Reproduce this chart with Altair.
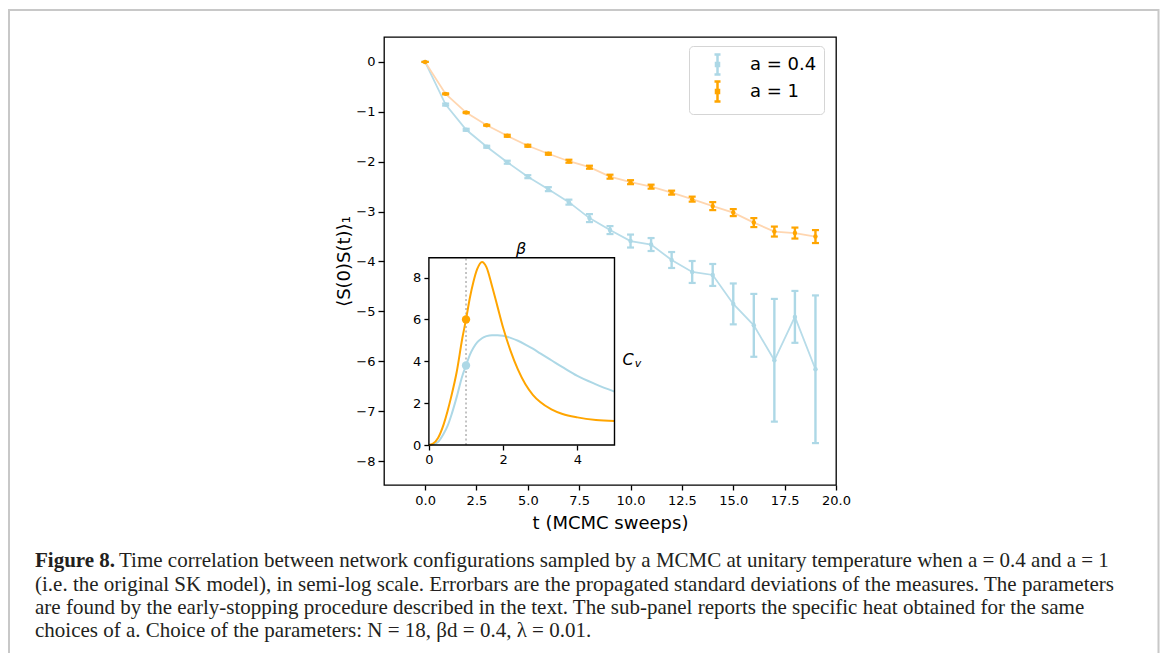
import altair as alt
import pandas as pd

# ---------------- data ----------------
T = list(range(20))
A04_MEAN = [0.0, -0.855, -1.36, -1.70, -2.01, -2.30, -2.55, -2.81, -3.13, -3.37,
            -3.59, -3.66, -3.97, -4.21, -4.27, -4.85, -5.28, -5.98, -5.11, -6.16]
A04_ERR = [0.0, 0.02, 0.02, 0.02, 0.03, 0.03, 0.04, 0.05, 0.08, 0.08,
           0.13, 0.13, 0.16, 0.22, 0.22, 0.41, 0.63, 1.23, 0.52, 1.48]
A1_MEAN = [0.0, -0.64, -1.015, -1.27, -1.48, -1.68, -1.84, -1.99, -2.11, -2.30,
           -2.41, -2.50, -2.62, -2.75, -2.89, -3.02, -3.22, -3.40, -3.43, -3.50]
A1_ERR = [0.0, 0.01, 0.01, 0.01, 0.02, 0.02, 0.02, 0.03, 0.03, 0.04,
          0.04, 0.04, 0.04, 0.05, 0.08, 0.07, 0.09, 0.10, 0.11, 0.13]

# inset: specific heat vs beta
BETA = [0.0, 0.1, 0.25, 0.4, 0.5, 0.6, 0.75, 0.9, 1.0, 1.1, 1.2, 1.3, 1.43, 1.55,
        1.7, 1.85, 2.0, 2.2, 2.4, 2.6, 2.8, 3.0, 3.3, 3.6, 4.0, 4.5, 5.0]
CV_A04 = [0.0, 0.02, 0.15, 0.55, 0.9, 1.4, 2.3, 3.3, 3.8, 4.3, 4.65, 4.9, 5.1, 5.2,
          5.25, 5.25, 5.22, 5.12, 4.98, 4.8, 4.6, 4.38, 4.05, 3.72, 3.3, 2.9, 2.55]
CV_A1 = [0.0, 0.05, 0.35, 1.0, 1.6, 2.3, 3.5, 5.1, 6.0, 7.0, 7.8, 8.4, 8.75, 8.5,
         7.6, 6.6, 5.6, 4.5, 3.6, 2.9, 2.4, 2.05, 1.7, 1.48, 1.32, 1.2, 1.15]
BETA_D = [1.0, 1.0]
CV_AT_BD = [3.8, 6.0]

SERIES = ["a = 0.4", "a = 1"]
COLORS = ["#add8e6", "#ffa500"]
LINE_COLORS = ["#b7dce9", "#ffd6b0"]

X_TICKS = [0, 2.5, 5, 7.5, 10, 12.5, 15, 17.5, 20]
Y_TICKS = [-8, -7, -6, -5, -4, -3, -2, -1, 0]
INSET_X_TICKS = [0, 2, 4]
INSET_Y_TICKS = [0, 2, 4, 6, 8]

CAPTION_BOLD = "Figure 8."
CAPTION_L1 = ("Time correlation between network configurations sampled by a MCMC at "
              "unitary temperature when a = 0.4 and a = 1")
CAPTION_REST = [
    "(i.e. the original SK model), in semi-log scale. Errorbars are the propagated "
    "standard deviations of the measures. The parameters",
    "are found by the early-stopping procedure described in the text. The sub-panel "
    "reports the specific heat obtained for the same",
    "choices of a. Choice of the parameters: N = 18, \u03b2d = 0.4, \u03bb = 0.01.",
]

# ---------------- tables ----------------
main_df = pd.DataFrame({
    "t": T + T,
    "v": A04_MEAN + A1_MEAN,
    "err": A04_ERR + A1_ERR,
    "series": [SERIES[0]] * len(T) + [SERIES[1]] * len(T),
})
main_df["lo"] = main_df["v"] - main_df["err"]
main_df["hi"] = main_df["v"] + main_df["err"]

inset_df = pd.DataFrame({
    "beta": BETA + BETA,
    "cv": CV_A04 + CV_A1,
    "series": [SERIES[0]] * len(BETA) + [SERIES[1]] * len(BETA),
})
dots_df = pd.DataFrame({"beta": BETA_D, "cv": CV_AT_BD, "series": SERIES})
box_df = pd.DataFrame({"b0": [0.0], "b1": [5.0], "c0": [0.0], "c1": [8.95]})
vline_df = pd.DataFrame({"beta": [BETA_D[0]], "c0": [0.0], "c1": [8.95]})

W, H = 452, 448
TICK_FONT = 13
TITLE_FONT = 18

# ---------------- main panel ----------------
xs_main = alt.Scale(domain=[-2, 20], nice=False, zero=False)
ys_main = alt.Scale(domain=[-8.48, 0.5], nice=False, zero=False)
x_axis_main = alt.Axis(values=X_TICKS, format=".1f", title="t (MCMC sweeps)",
                       titleFontSize=TITLE_FONT, titleFontWeight="normal", titleY=38,
                       titleBaseline="middle", tickSize=5, labelPadding=4,
                       labelFontSize=TICK_FONT)
y_axis_main = alt.Axis(values=Y_TICKS, format="d", title="\u27e8S(0)S(t)\u27e9\u2081",
                       titleFontSize=TITLE_FONT, titleFontWeight="normal", titleX=-40,
                       titleY=224, titleAngle=270, titleBaseline="middle",
                       titleAlign="center", tickSize=6, labelPadding=3,
                       labelFontSize=TICK_FONT)


def mx():
    return alt.X("t:Q", scale=xs_main, axis=x_axis_main)


def my(field):
    return alt.Y(f"{field}:Q", scale=ys_main, axis=y_axis_main)


ERRBAR_PATH = ("M0,-1L0,1M-0.3,-1L0.3,-1M-0.3,1L0.3,1"
               "M-0.15,-0.15L0.15,-0.15L0.15,0.15L-0.15,0.15Z")

legend = alt.Legend(title=None, orient="none", legendX=305, legendY=9, padding=7,
                    symbolType=ERRBAR_PATH, symbolSize=400, symbolStrokeWidth=2.5,
                    symbolOffset=10, labelOffset=21, rowPadding=-5,
                    labelFont="DejaVu Sans", labelFontSize=18, labelColor="black",
                    strokeColor="#d5d5d5", fillColor="white", cornerRadius=4)

main_layers = []
for name, lc in zip(SERIES, LINE_COLORS):
    main_layers.append(
        alt.Chart(main_df).transform_filter(alt.datum.series == name)
        .mark_line(color=lc, strokeWidth=1.8)
        .encode(x=mx(), y=my("v"))
    )
main_layers.append(
    alt.Chart(main_df).mark_rule(strokeWidth=2.4).encode(
        x=mx(), y=my("lo"), y2="hi:Q",
        color=alt.Color("series:N", scale=alt.Scale(domain=SERIES, range=COLORS),
                        legend=legend),
    )
)
for name, col in zip(SERIES, COLORS):
    sub = alt.Chart(main_df).transform_filter(alt.datum.series == name)
    for f in ["lo", "hi"]:
        main_layers.append(
            sub.mark_tick(orient="horizontal", size=7, thickness=2.2, color=col,
                          opacity=1).encode(x=mx(), y=my(f))
        )
    main_layers.append(
        sub.mark_circle(size=20, color=col, opacity=1).encode(x=mx(), y=my("v"))
    )
main = alt.layer(*main_layers)

# ---------------- inset ----------------
xs_in = alt.Scale(domain=[0, 5], range=[44.9, 230.5], nice=False, zero=False)
ys_in = alt.Scale(domain=[0, 8.95], range=[408, 220.7], nice=False, zero=False)
x_axis_in = alt.Axis(orient="bottom", offset=-40, values=INSET_X_TICKS, format="d",
                     title=None, tickSize=5, labelPadding=3, labelFontSize=TICK_FONT)
y_axis_in = alt.Axis(orient="left", offset=-44.9, values=INSET_Y_TICKS, format="d",
                     title=None, tickSize=5, labelPadding=3, labelFontSize=TICK_FONT)

inset_layers = [
    alt.Chart(box_df).mark_rect(fill="white").encode(
        x=alt.X("b0:Q", scale=xs_in, axis=x_axis_in), x2="b1:Q",
        y=alt.Y("c0:Q", scale=ys_in, axis=y_axis_in), y2="c1:Q"),
    alt.Chart(vline_df).mark_rule(color="#b5b5b5", strokeWidth=1.6,
                                  strokeDash=[2, 2.5]).encode(
        x=alt.X("beta:Q", scale=xs_in, axis=x_axis_in),
        y=alt.Y("c0:Q", scale=ys_in, axis=y_axis_in), y2="c1:Q"),
]
for name, col in zip(SERIES, COLORS):
    inset_layers.append(
        alt.Chart(inset_df).transform_filter(alt.datum.series == name)
        .mark_line(color=col, strokeWidth=2, interpolate="monotone")
        .encode(x=alt.X("beta:Q", scale=xs_in, axis=x_axis_in),
                y=alt.Y("cv:Q", scale=ys_in, axis=y_axis_in))
    )
for name, col in zip(SERIES, COLORS):
    inset_layers.append(
        alt.Chart(dots_df).transform_filter(alt.datum.series == name)
        .mark_circle(size=70, color=col, opacity=1)
        .encode(x=alt.X("beta:Q", scale=xs_in, axis=x_axis_in),
                y=alt.Y("cv:Q", scale=ys_in, axis=y_axis_in))
    )
inset_layers.append(
    alt.Chart(box_df).mark_rect(fillOpacity=0, stroke="black", strokeWidth=1.4).encode(
        x=alt.X("b0:Q", scale=xs_in, axis=x_axis_in), x2="b1:Q",
        y=alt.Y("c0:Q", scale=ys_in, axis=y_axis_in), y2="c1:Q")
)
inset = alt.layer(*inset_layers)

# ---------------- text & frame ----------------
ONE = alt.Data(values=[{}])


def txt(text, x, y, **kw):
    return alt.Chart(ONE).mark_text(**kw).encode(
        x=alt.value(x), y=alt.value(y), text=alt.value(text))


CAP_FONT = 21
texts = [
    txt("\u03b2", 137, 212, font="DejaVu Sans", fontSize=16, fontStyle="italic",
        align="center", baseline="middle", color="black"),
    txt("C", 244, 323, font="DejaVu Sans", fontSize=16, fontStyle="italic",
        align="center", baseline="middle", color="black"),
    txt("v", 254, 327, font="DejaVu Sans", fontSize=11, fontStyle="italic",
        align="center", baseline="middle", color="black"),
    txt(CAPTION_BOLD, -349, 530.3, font="Liberation Serif", fontSize=CAP_FONT,
        fontWeight="bold", align="left", baseline="alphabetic", color="#231f20"),
    txt(CAPTION_L1, -265, 530.3, font="Liberation Serif", fontSize=CAP_FONT,
        align="left", baseline="alphabetic", color="#231f20"),
    txt(CAPTION_REST, -349, 553.6, font="Liberation Serif", fontSize=CAP_FONT,
        lineHeight=23.3, align="left", baseline="alphabetic", color="#231f20"),
]

frame = alt.Chart(ONE).mark_rect(fillOpacity=0, stroke="#c8c8c8", strokeWidth=2).encode(
    x=alt.value(-375), x2=alt.value(774.5), y=alt.value(-27), y2=alt.value(720))

chart = (
    alt.layer(frame, main, inset, *texts)
    .resolve_scale(x="independent", y="independent")
    .properties(width=W, height=H,
                padding={"left": 376, "top": 29, "right": 324, "bottom": 168},
                autosize=alt.AutoSizeParams(type="none"))
    .configure_axis(labelFont="DejaVu Sans", titleFont="DejaVu Sans",
                    labelColor="black", titleColor="black", tickColor="black",
                    tickWidth=1.3, grid=False, domain=False, labelFlush=False)
    .configure_view(stroke="black", strokeWidth=1.3)
)

chart.save("out.html", embed_options={"renderer": "svg", "actions": False})
